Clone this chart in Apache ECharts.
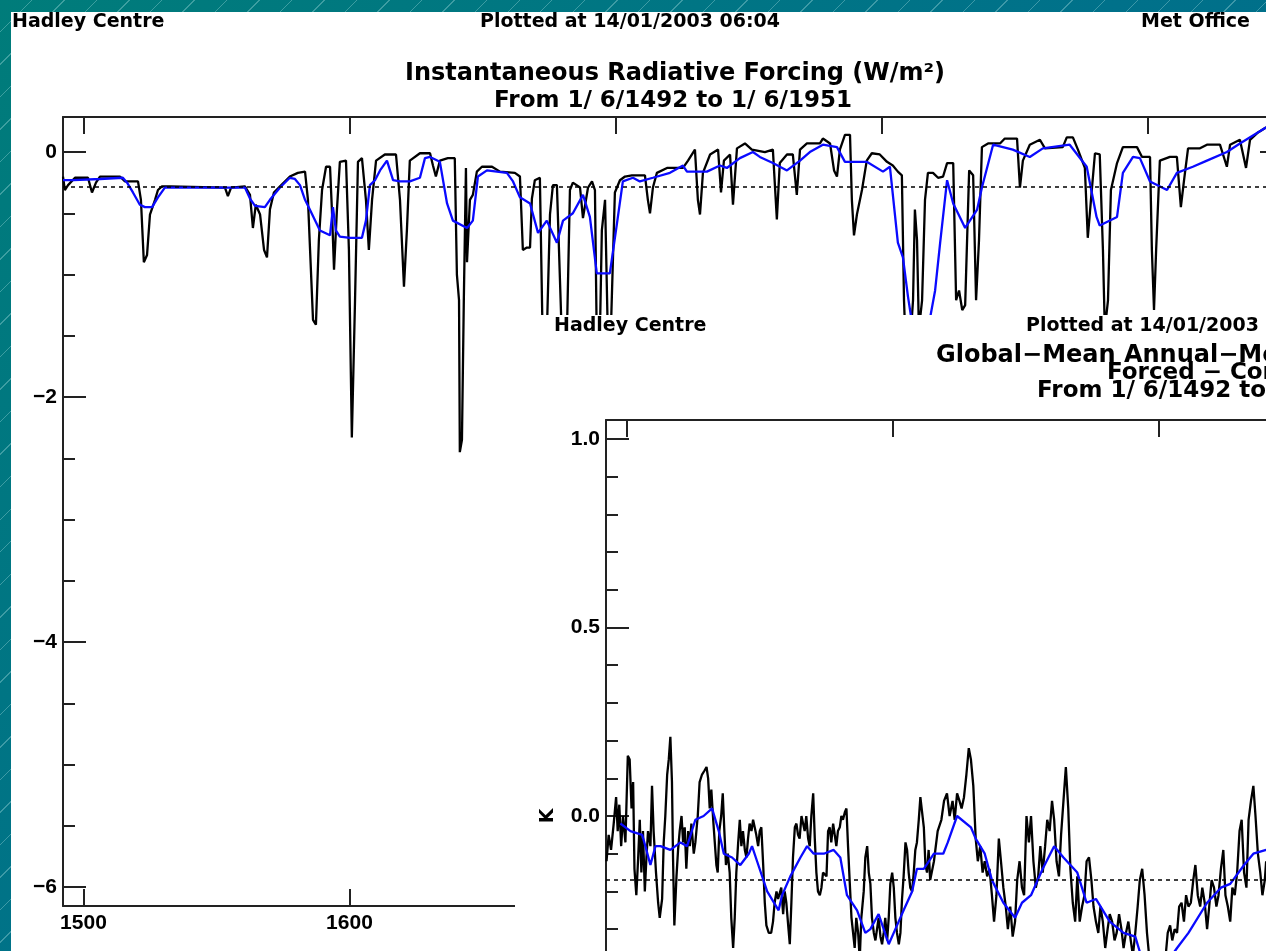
<!DOCTYPE html>
<html>
<head>
<meta charset="utf-8">
<title>Instantaneous Radiative Forcing</title>
<script src="https://cdn.jsdelivr.net/npm/echarts@6/dist/echarts.min.js"></script>
<style>
html, body { margin: 0; padding: 0; }
#stage {
  position: relative; width: 1266px; height: 951px; overflow: hidden;
  background:
    repeating-linear-gradient(135deg, rgba(255,255,255,0) 0px, rgba(255,255,255,0) 22px, rgba(190,235,235,0.32) 22px, rgba(190,235,235,0.32) 23px),
    linear-gradient(135deg, #007c7a 0%, #00718a 50%, #006888 100%);
}
/* both panels run past the right/bottom edge of the stage, which crops them */
#forcing { position: absolute; left: 0; top: 0; width: 1300px; height: 951px; }
#temperature { position: absolute; left: 515px; top: 315px; width: 1320px; height: 1000px; background: #fff; }
</style>
</head>
<body>
<div id="stage"><div id="forcing"></div><div id="temperature"></div></div>
<script>
// ---- data: instantaneous radiative forcing (W/m2), [year, value] ----
const forcingAnnual = [
  [1492.3,-0.20],[1493.0,-0.31],[1494.2,-0.27],[1496.8,-0.21],[1501.7,-0.21],[1503.2,-0.33],[1504.7,-0.25],
  [1506.2,-0.20],[1513.7,-0.20],[1515.6,-0.24],[1520.5,-0.24],[1521.6,-0.39],[1522.7,-0.90],[1523.9,-0.84],
  [1525.0,-0.51],[1526.9,-0.39],[1528.0,-0.31],[1529.5,-0.28],[1532.5,-0.28],[1553.2,-0.29],[1554.3,-0.36],
  [1555.5,-0.29],[1560.7,-0.28],[1562.6,-0.35],[1563.7,-0.62],[1564.8,-0.43],[1566.4,-0.51],[1567.9,-0.80],
  [1569.0,-0.86],[1570.1,-0.47],[1571.6,-0.33],[1573.9,-0.28],[1577.6,-0.20],[1580.6,-0.17],[1583.3,-0.16],
  [1584.4,-0.39],[1586.3,-1.37],[1587.4,-1.41],[1588.5,-0.72],[1589.7,-0.31],[1591.2,-0.12],[1592.7,-0.12],
  [1593.4,-0.47],[1594.2,-0.96],[1595.3,-0.47],[1596.4,-0.08],[1598.7,-0.07],[1599.8,-0.80],[1600.9,-2.33],
  [1602.1,-1.21],[1603.2,-0.08],[1604.7,-0.05],[1606.2,-0.39],[1607.3,-0.80],[1608.5,-0.39],[1610.0,-0.07],
  [1613.3,-0.02],[1617.5,-0.02],[1619.0,-0.39],[1620.5,-1.10],[1621.6,-0.64],[1622.7,-0.07],[1626.5,-0.01],
  [1630.3,-0.01],[1631.4,-0.11],[1632.5,-0.20],[1634.0,-0.07],[1637.0,-0.05],[1639.6,-0.05],[1640.4,-1.00],
  [1641.2,-1.21],[1641.5,-2.45],[1642.3,-2.35],[1643.0,-1.21],[1643.8,-0.13],[1644.2,-0.90],[1645.3,-0.39],
  [1646.4,-0.35],[1647.9,-0.16],[1649.8,-0.12],[1653.6,-0.12],[1656.6,-0.16],[1662.2,-0.17],[1664.1,-0.20],
  [1665.2,-0.80],[1666.7,-0.78],[1667.9,-0.78],[1668.6,-0.38],[1669.7,-0.23],[1671.6,-0.21],[1672.7,-1.60],
  [1674.2,-1.50],[1675.4,-0.51],[1676.5,-0.27],[1678.0,-0.27],[1679.9,-1.55],[1681.8,-1.45],[1682.9,-0.31],
  [1684.0,-0.25],[1686.7,-0.29],[1687.8,-0.54],[1689.7,-0.29],[1691.2,-0.24],[1692.3,-0.31],[1693.0,-1.55],
  [1694.2,-1.45],[1694.9,-0.64],[1696.1,-0.39],[1697.2,-1.55],[1698.3,-1.45],[1699.8,-0.33],[1701.7,-0.23],
  [1703.6,-0.20],[1706.2,-0.19],[1711.1,-0.19],[1712.2,-0.39],[1713.0,-0.50],[1714.1,-0.29],[1715.6,-0.17],
  [1719.4,-0.13],[1725.4,-0.13],[1727.3,-0.07],[1729.9,0.02],[1731.0,-0.39],[1731.8,-0.51],[1732.9,-0.17],
  [1735.6,-0.02],[1738.6,0.02],[1739.7,-0.33],[1740.8,-0.07],[1743.1,-0.02],[1744.2,-0.43],[1745.7,0.03],
  [1748.7,0.07],[1751.3,0.02],[1756.2,0.00],[1759.2,0.02],[1760.7,-0.55],[1761.8,-0.09],[1764.5,-0.02],
  [1766.7,-0.02],[1768.2,-0.35],[1769.4,0.02],[1772.0,0.07],[1776.9,0.07],[1778.0,0.11],[1780.7,0.07],
  [1782.2,-0.15],[1783.3,-0.20],[1784.4,0.02],[1786.3,0.14],[1788.2,0.14],[1788.9,-0.39],[1789.7,-0.68],
  [1790.8,-0.51],[1792.7,-0.31],[1794.5,-0.07],[1796.4,-0.01],[1799.4,-0.02],[1802.1,-0.08],[1804.3,-0.11],
  [1806.2,-0.16],[1807.7,-0.19],[1808.5,-1.21],[1809.6,-1.86],[1810.7,-1.60],[1811.9,-1.21],[1812.6,-0.47],
  [1813.4,-0.72],[1814.1,-1.45],[1815.3,-1.21],[1816.4,-0.39],[1817.5,-0.17],[1819.4,-0.17],[1821.3,-0.21],
  [1823.2,-0.20],[1824.7,-0.09],[1827.0,-0.09],[1828.1,-1.21],[1829.2,-1.13],[1830.4,-1.29],[1831.5,-1.25],
  [1833.0,-0.15],[1834.5,-0.19],[1835.6,-1.21],[1836.7,-0.72],[1837.8,0.04],[1840.1,0.07],[1844.6,0.07],
  [1846.4,0.11],[1851.0,0.11],[1852.1,-0.29],[1853.2,-0.07],[1855.8,0.06],[1859.6,0.10],[1861.5,0.03],
  [1868.2,0.04],[1869.7,0.12],[1872.0,0.12],[1873.9,0.02],[1876.5,-0.13],[1877.6,-0.70],[1878.8,-0.39],
  [1880.3,-0.01],[1882.1,-0.02],[1883.3,-0.80],[1884.0,-1.45],[1885.2,-1.21],[1886.3,-0.31],[1888.6,-0.09],
  [1890.8,0.04],[1896.1,0.04],[1898.0,-0.04],[1901.0,-0.04],[1901.7,-0.80],[1902.5,-1.29],[1903.3,-0.80],
  [1904.7,-0.07],[1908.5,-0.04],[1911.1,-0.04],[1912.6,-0.45],[1913.8,-0.23],[1915.3,0.03],[1919.8,0.03],
  [1922.4,0.06],[1927.3,0.06],[1929.9,-0.12],[1931.1,0.06],[1934.8,0.10],[1937.1,-0.13],[1938.6,0.10],
  [1941.6,0.16],[1944.6,0.20],[1951.0,0.22]
];

const forcingSmoothed = [
  [1492.3,-0.23],[1496.1,-0.23],[1506.2,-0.22],[1514.8,-0.21],[1516.4,-0.25],[1518.6,-0.33],[1521.2,-0.43],
  [1523.1,-0.45],[1525.8,-0.45],[1528.0,-0.37],[1530.6,-0.29],[1532.5,-0.29],[1560.7,-0.29],[1562.6,-0.38],
  [1564.5,-0.44],[1568.2,-0.45],[1570.1,-0.39],[1573.9,-0.29],[1577.6,-0.21],[1579.5,-0.22],[1581.4,-0.27],
  [1583.3,-0.39],[1585.1,-0.47],[1588.9,-0.64],[1592.7,-0.68],[1593.8,-0.45],[1594.9,-0.64],[1596.4,-0.69],
  [1600.2,-0.70],[1604.7,-0.70],[1606.2,-0.56],[1607.7,-0.27],[1609.6,-0.23],[1611.5,-0.15],[1614.1,-0.07],
  [1616.4,-0.23],[1619.0,-0.24],[1622.7,-0.24],[1626.5,-0.21],[1628.4,-0.05],[1630.3,-0.04],[1634.0,-0.08],
  [1636.7,-0.42],[1638.9,-0.56],[1644.2,-0.62],[1646.4,-0.56],[1648.3,-0.20],[1651.7,-0.15],[1659.2,-0.17],
  [1661.5,-0.24],[1664.1,-0.37],[1667.9,-0.42],[1670.9,-0.66],[1674.2,-0.56],[1678.0,-0.74],[1680.3,-0.56],
  [1684.0,-0.50],[1687.8,-0.35],[1690.4,-0.53],[1693.0,-0.99],[1697.9,-0.99],[1700.6,-0.58],[1702.8,-0.24],
  [1706.6,-0.21],[1709.2,-0.24],[1714.1,-0.21],[1720.5,-0.17],[1725.4,-0.11],[1726.9,-0.16],[1734.4,-0.16],
  [1739.3,-0.11],[1741.9,-0.13],[1746.8,-0.05],[1751.7,0.00],[1754.3,-0.04],[1759.2,-0.09],[1764.5,-0.15],
  [1769.4,-0.07],[1773.1,0.00],[1778.0,0.06],[1783.3,0.04],[1786.3,-0.08],[1794.5,-0.08],[1800.6,-0.16],
  [1803.2,-0.12],[1806.2,-0.74],[1808.1,-0.86],[1810.0,-1.18],[1811.9,-1.45],[1814.5,-1.58],[1817.5,-1.45],
  [1820.2,-1.13],[1822.1,-0.74],[1824.7,-0.23],[1827.0,-0.42],[1831.5,-0.62],[1836.0,-0.47],[1837.8,-0.29],
  [1842.0,0.06],[1849.4,0.02],[1855.8,-0.04],[1860.7,0.03],[1870.8,0.06],[1877.2,-0.12],[1880.9,-0.53],
  [1882.1,-0.60],[1888.6,-0.53],[1890.8,-0.17],[1894.6,-0.04],[1897.2,-0.05],[1901.0,-0.24],[1907.4,-0.31],
  [1911.1,-0.17],[1917.1,-0.12],[1922.4,-0.07],[1929.9,0.00],[1934.8,0.07],[1944.6,0.20],[1951.0,0.23]
];

// ---- data: global-mean annual-mean temperature, forced minus control (K) ----
const temperatureAnnual = [
  [1492.5,-0.12],[1493.3,-0.05],[1494.2,-0.09],[1495.2,-0.02],[1496.1,0.05],[1496.7,-0.04],[1497.3,0.03],
  [1498.0,-0.08],[1498.7,0.00],[1499.6,-0.07],[1500.5,0.16],[1501.2,0.15],[1501.9,0.02],[1502.5,0.09],
  [1503.0,-0.14],[1503.7,-0.21],[1504.4,-0.11],[1505.0,-0.01],[1505.6,-0.15],[1506.2,-0.04],[1506.9,-0.20],
  [1507.5,-0.11],[1508.1,-0.04],[1509.0,-0.08],[1509.6,0.08],[1510.2,-0.04],[1511.1,-0.15],[1511.9,-0.23],
  [1512.5,-0.27],[1513.4,-0.22],[1514.0,-0.07],[1514.6,0.00],[1515.3,0.11],[1515.9,0.15],[1516.5,0.21],
  [1517.1,0.09],[1517.5,-0.11],[1518.0,-0.29],[1518.8,-0.16],[1519.4,-0.09],[1520.0,-0.04],[1520.7,0.00],
  [1521.3,-0.07],[1521.9,-0.03],[1522.5,-0.14],[1523.2,-0.04],[1523.8,-0.08],[1524.4,-0.02],[1525.3,-0.10],
  [1525.9,-0.07],[1526.8,0.00],[1527.5,0.09],[1528.4,0.11],[1529.3,0.12],[1530.1,0.13],[1530.7,0.10],
  [1531.3,0.02],[1531.9,0.07],[1532.6,-0.01],[1533.2,-0.07],[1533.8,-0.13],[1534.3,-0.15],[1534.9,-0.04],
  [1535.6,0.00],[1536.2,0.06],[1536.8,-0.04],[1537.4,-0.13],[1538.1,-0.10],[1538.8,-0.15],[1539.4,-0.27],
  [1540.1,-0.35],[1540.7,-0.27],[1541.3,-0.15],[1542.0,-0.07],[1542.6,-0.01],[1543.2,-0.08],[1543.8,-0.04],
  [1544.5,-0.09],[1545.1,-0.11],[1545.7,-0.06],[1546.3,-0.02],[1547.0,-0.04],[1547.6,-0.01],[1548.2,-0.03],
  [1548.8,-0.05],[1549.5,-0.08],[1550.1,-0.04],[1550.7,-0.03],[1551.4,-0.13],[1552.0,-0.23],[1552.6,-0.29],
  [1553.5,-0.31],[1554.4,-0.31],[1555.1,-0.28],[1555.7,-0.23],[1556.4,-0.20],[1557.0,-0.22],[1557.6,-0.22],
  [1558.2,-0.19],[1558.9,-0.26],[1559.5,-0.20],[1560.1,-0.23],[1560.8,-0.29],[1561.4,-0.34],[1562.0,-0.23],
  [1562.6,-0.11],[1563.3,-0.03],[1563.9,-0.02],[1564.5,-0.05],[1565.1,-0.06],[1565.8,0.00],[1566.4,0.00],
  [1567.0,-0.04],[1567.6,0.00],[1568.3,-0.06],[1568.9,-0.08],[1569.5,0.00],[1570.2,0.06],[1570.8,-0.06],
  [1571.4,-0.15],[1572.0,-0.20],[1572.7,-0.21],[1573.3,-0.19],[1573.9,-0.15],[1574.5,-0.15],[1575.2,-0.16],
  [1575.8,-0.04],[1576.4,-0.03],[1577.0,-0.07],[1577.7,-0.02],[1578.3,-0.05],[1578.9,-0.08],[1579.5,-0.04],
  [1580.2,-0.03],[1580.8,0.00],[1581.4,-0.01],[1582.1,0.01],[1582.7,0.02],[1583.3,-0.08],[1583.9,-0.17],
  [1584.6,-0.27],[1585.2,-0.31],[1585.8,-0.35],[1586.4,-0.27],[1587.1,-0.31],[1587.7,-0.38],[1588.3,-0.27],
  [1589.2,-0.20],[1589.8,-0.11],[1590.5,-0.08],[1591.1,-0.15],[1591.7,-0.18],[1592.3,-0.27],[1593.0,-0.31],
  [1593.6,-0.33],[1594.2,-0.30],[1594.8,-0.27],[1595.5,-0.32],[1596.1,-0.34],[1596.7,-0.31],[1597.3,-0.27],
  [1598.0,-0.33],[1598.6,-0.27],[1599.2,-0.18],[1599.9,-0.15],[1600.5,-0.19],[1601.1,-0.27],[1601.7,-0.31],
  [1602.4,-0.34],[1603.0,-0.31],[1603.6,-0.22],[1604.2,-0.16],[1604.9,-0.07],[1605.5,-0.09],[1606.1,-0.15],
  [1606.7,-0.19],[1607.4,-0.20],[1608.0,-0.15],[1608.6,-0.09],[1609.2,-0.07],[1609.9,-0.01],[1610.5,0.05],
  [1611.1,0.05],[1611.8,-0.03],[1612.4,-0.13],[1613.0,-0.15],[1613.6,-0.09],[1614.2,-0.17],[1615.6,-0.12],
  [1617.0,-0.04],[1618.4,-0.01],[1619.4,0.04],[1620.5,0.06],[1621.5,0.00],[1622.6,0.04],[1623.4,-0.01],
  [1624.3,0.06],[1625.2,0.04],[1626.0,0.02],[1626.9,0.05],[1627.8,0.11],[1628.7,0.18],[1629.5,0.15],
  [1630.4,0.08],[1631.3,-0.06],[1632.1,-0.12],[1633.0,-0.08],[1633.9,-0.15],[1634.7,-0.12],[1635.6,-0.16],
  [1636.5,-0.14],[1637.4,-0.21],[1638.2,-0.28],[1639.1,-0.21],[1640.0,-0.06],[1640.8,-0.12],[1641.7,-0.19],
  [1642.6,-0.24],[1643.4,-0.30],[1644.3,-0.24],[1645.2,-0.32],[1646.1,-0.28],[1646.9,-0.17],[1647.8,-0.12],
  [1648.7,-0.19],[1649.5,-0.21],[1650.4,0.00],[1651.3,-0.07],[1652.1,0.00],[1653.0,-0.12],[1653.9,-0.19],
  [1654.8,-0.16],[1655.6,-0.08],[1656.5,-0.15],[1657.4,-0.08],[1658.2,-0.01],[1659.1,-0.04],[1660.0,0.04],
  [1660.8,-0.01],[1661.7,-0.12],[1662.6,-0.16],[1663.4,-0.05],[1664.3,0.04],[1665.2,0.13],[1666.1,0.02],
  [1666.9,-0.14],[1667.8,-0.23],[1668.7,-0.28],[1669.5,-0.16],[1670.4,-0.28],[1671.3,-0.24],[1672.2,-0.21],
  [1673.0,-0.12],[1673.9,-0.11],[1674.8,-0.17],[1675.6,-0.24],[1676.5,-0.28],[1677.4,-0.31],[1678.2,-0.24],
  [1679.1,-0.28],[1680.0,-0.35],[1680.9,-0.30],[1681.7,-0.26],[1682.6,-0.28],[1683.5,-0.33],[1684.3,-0.31],
  [1685.2,-0.26],[1686.1,-0.30],[1686.9,-0.35],[1687.8,-0.31],[1688.7,-0.28],[1689.6,-0.33],[1690.4,-0.37],
  [1691.3,-0.31],[1692.2,-0.24],[1693.0,-0.17],[1693.9,-0.14],[1694.8,-0.21],[1695.7,-0.31],[1696.5,-0.37],
  [1697.4,-0.42],[1699.1,-0.45],[1700.9,-0.41],[1702.6,-0.38],[1703.5,-0.31],[1704.4,-0.29],[1705.2,-0.33],
  [1706.1,-0.30],[1707.0,-0.31],[1707.8,-0.24],[1708.7,-0.23],[1709.6,-0.28],[1710.4,-0.21],[1711.3,-0.24],
  [1712.2,-0.23],[1713.1,-0.17],[1713.9,-0.13],[1714.8,-0.21],[1715.7,-0.24],[1716.5,-0.19],[1717.4,-0.23],
  [1718.3,-0.30],[1719.1,-0.24],[1720.0,-0.17],[1720.9,-0.19],[1721.8,-0.24],[1722.6,-0.21],[1723.5,-0.14],
  [1724.4,-0.09],[1725.2,-0.21],[1726.1,-0.24],[1727.0,-0.28],[1727.8,-0.19],[1728.7,-0.21],[1729.6,-0.15],
  [1730.5,-0.04],[1731.3,-0.01],[1732.2,-0.15],[1733.1,-0.19],[1733.9,-0.01],[1734.8,0.04],[1735.7,0.08],
  [1736.5,0.00],[1737.4,-0.10],[1738.3,-0.15],[1739.1,-0.21],[1740.0,-0.17],[1740.5,-0.12]
];

const temperatureSmoothed = [
  [1497.7,-0.02],[1501.5,-0.04],[1505.9,-0.05],[1507.1,-0.08],[1509.0,-0.13],[1510.9,-0.08],[1512.8,-0.08],
  [1516.5,-0.09],[1520.3,-0.07],[1522.8,-0.08],[1525.9,-0.01],[1529.0,0.00],[1532.2,0.02],[1534.7,-0.04],
  [1536.6,-0.10],[1539.7,-0.11],[1542.8,-0.13],[1546.0,-0.10],[1547.2,-0.08],[1549.1,-0.12],[1552.9,-0.20],
  [1557.2,-0.25],[1558.5,-0.21],[1561.6,-0.16],[1565.4,-0.11],[1567.9,-0.08],[1570.4,-0.10],[1574.2,-0.10],
  [1577.9,-0.09],[1580.4,-0.11],[1582.9,-0.21],[1586.7,-0.25],[1589.8,-0.31],[1591.7,-0.30],[1594.8,-0.26],
  [1598.6,-0.34],[1601.1,-0.30],[1604.2,-0.25],[1607.4,-0.20],[1609.2,-0.14],[1611.8,-0.14],[1615.6,-0.10],
  [1619.1,-0.10],[1620.8,-0.07],[1624.3,0.00],[1629.5,-0.03],[1631.3,-0.06],[1634.7,-0.10],[1637.4,-0.17],
  [1641.7,-0.23],[1646.1,-0.27],[1648.7,-0.23],[1652.1,-0.21],[1656.5,-0.14],[1660.8,-0.08],[1664.3,-0.11],
  [1669.5,-0.15],[1673.0,-0.23],[1676.5,-0.22],[1681.7,-0.28],[1686.9,-0.31],[1691.3,-0.32],[1693.0,-0.36],
  [1697.0,-0.40],[1702.0,-0.40],[1707.0,-0.35],[1711.3,-0.31],[1718.3,-0.23],[1723.5,-0.19],[1727.0,-0.18],
  [1732.2,-0.13],[1735.7,-0.10],[1740.5,-0.09]
];

// reference (control-mean) levels drawn as dashed lines
const forcingReference = -0.28;
const temperatureReference = -0.167;

// axis ranges and tick positions
const yearRange = [1492.3, 1951];
const yearTicks = [1500, 1600, 1700, 1800, 1900];
const forcingRange = [-6.155, 0.286];
const forcingMajorTicks = [-6, -4, -2, 0];
const forcingMinorTicks = [-5.5, -5, -4.5, -3.5, -3, -2.5, -1.5, -1, -0.5];
const temperatureRange = [-1.05, 1.05];
const temperatureMajorTicks = [-1, -0.5, 0, 0.5, 1];
const temperatureMinorTicks = [-0.9, -0.8, -0.7, -0.6, -0.4, -0.3, -0.2, -0.1, 0.1, 0.2, 0.3, 0.4, 0.6, 0.7, 0.8, 0.9];

// ---- shared styling ----
const AXIS_COLOR = '#222';
const LABEL_FONT = { color: '#000', fontFamily: 'Liberation Sans', fontWeight: 'bold', fontSize: 21 };
const HEAD_FONT = { fill: '#000', fontFamily: 'DejaVu Sans', fontWeight: 'bold', fontSize: 19 };
const TITLE_FONT = { fill: '#000', fontFamily: 'DejaVu Sans', fontWeight: 'bold', fontSize: 24 };
const SUBTITLE_FONT = { fill: '#000', fontFamily: 'DejaVu Sans', fontWeight: 'bold', fontSize: 23 };

function minus(v) { return (v < 0 ? '\u2212' : '') + Math.abs(v); }

function text(str, x, y, font, align, rotation) {
  return {
    type: 'text', x: x, y: y, rotation: rotation || 0, z: 10,
    style: Object.assign({ text: str, textAlign: align || 'left', textVerticalAlign: 'middle' }, font)
  };
}

function xAxes() {
  const base = {
    type: 'value', min: yearRange[0], max: yearRange[1], gridIndex: 0,
    axisLine: { show: true, onZero: false, lineStyle: { color: AXIS_COLOR, width: 2 } },
    axisTick: { show: true, inside: true, length: 17, customValues: yearTicks, lineStyle: { color: AXIS_COLOR, width: 2 } },
    splitLine: { show: false }
  };
  return [
    Object.assign({}, base, { position: 'bottom',
      axisLabel: Object.assign({ show: true, customValues: yearTicks, margin: 7, formatter: v => String(v) }, LABEL_FONT) }),
    Object.assign({}, base, { position: 'top', axisLabel: { show: false } })
  ];
}

function yAxes(range, major, minor, fmt) {
  const line = { show: true, onZero: false, lineStyle: { color: AXIS_COLOR, width: 2 } };
  const tickStyle = { color: AXIS_COLOR, width: 2 };
  const make = (pos, ticks, len, withLine, withLabel) => ({
    type: 'value', gridIndex: 0, min: range[0], max: range[1], position: pos,
    axisLine: withLine ? line : { show: false },
    axisTick: { show: true, inside: true, length: len, customValues: ticks, lineStyle: tickStyle },
    axisLabel: withLabel
      ? Object.assign({ show: true, customValues: major, margin: 6, formatter: fmt }, LABEL_FONT)
      : { show: false },
    splitLine: { show: false }
  });
  return [
    make('left', major, 23, true, true),
    make('left', minor, 12, false, false),
    make('right', major, 23, true, false),
    make('right', minor, 12, false, false)
  ];
}

function seriesPair(annual, smoothed, reference) {
  return [
    {
      type: 'line', xAxisIndex: 0, yAxisIndex: 0, data: annual, symbol: 'none', z: 3,
      lineStyle: { color: '#000', width: 2.3 },
      markLine: {
        silent: true, symbol: 'none', label: { show: false },
        lineStyle: { color: '#000', width: 1.5, type: [4, 4] },
        data: [{ yAxis: reference }]
      }
    },
    {
      type: 'line', xAxisIndex: 0, yAxisIndex: 0, data: smoothed, symbol: 'none', z: 4,
      lineStyle: { color: '#0a0aff', width: 2.3 }
    }
  ];
}

// ---- upper panel: radiative forcing ----
const forcingChart = echarts.init(document.getElementById('forcing'), null, { renderer: 'canvas' });
forcingChart.setOption({
  animation: false,
  backgroundColor: 'transparent',
  graphic: [
    { type: 'rect', shape: { x: 11, y: 12, width: 1289, height: 939 }, style: { fill: '#fff' }, z: -10 },
    text('Hadley Centre', 12, 22, HEAD_FONT),
    text('Plotted at 14/01/2003 06:04', 630, 22, HEAD_FONT, 'center'),
    text('Met Office', 1250, 22, HEAD_FONT, 'right'),
    text('Instantaneous Radiative Forcing (W/m\u00b2)', 675, 74, TITLE_FONT, 'center'),
    text('From 1/ 6/1492 to 1/ 6/1951', 673, 101, SUBTITLE_FONT, 'center')
  ],
  grid: { left: 63, top: 117, width: 1220, height: 789, containLabel: false },
  xAxis: xAxes(),
  yAxis: yAxes(forcingRange, forcingMajorTicks, forcingMinorTicks, v => minus(v)),
  series: seriesPair(forcingAnnual, forcingSmoothed, forcingReference)
});

// ---- lower panel: temperature response ----
const temperatureChart = echarts.init(document.getElementById('temperature'), null, { renderer: 'canvas' });
temperatureChart.setOption({
  animation: false,
  backgroundColor: '#fff',
  graphic: [
    text('Hadley Centre', 39, 11, HEAD_FONT),
    text('Plotted at 14/01/2003 06:04', 511, 11, HEAD_FONT),
    text('Met Office', 1277, 11, HEAD_FONT, 'right'),
    text('Global\u2212Mean Annual\u2212Mean Temperature', 421, 41, TITLE_FONT),
    text('Forced \u2212 Control', 701, 58.5, SUBTITLE_FONT, 'center'),
    text('From 1/ 6/1492 to 1/ 6/1951', 701, 76, SUBTITLE_FONT, 'center'),
    text('K', 33, 501, HEAD_FONT, 'center', Math.PI / 2)
  ],
  grid: { left: 91, top: 105, width: 1220, height: 792, containLabel: false },
  xAxis: xAxes(),
  yAxis: yAxes(temperatureRange, temperatureMajorTicks, temperatureMinorTicks,
    v => (v < 0 ? '\u2212' : '') + Math.abs(v).toFixed(1)),
  series: seriesPair(temperatureAnnual, temperatureSmoothed, temperatureReference)
});
</script>
</body>
</html>
